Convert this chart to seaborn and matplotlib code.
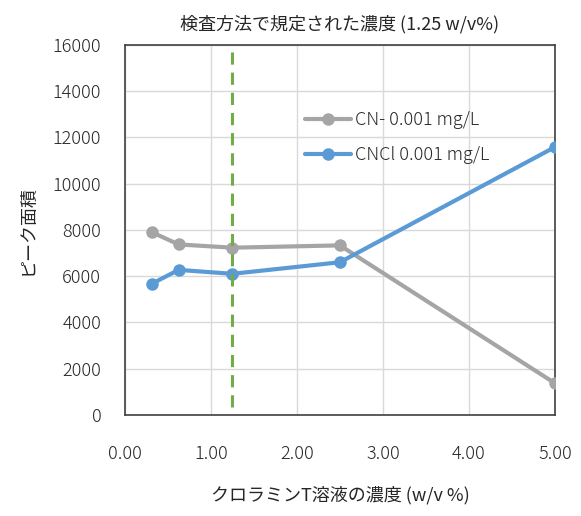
import matplotlib
matplotlib.use("Agg")
import matplotlib.pyplot as plt
import seaborn as sns
import pandas as pd

conc = [0.3125, 0.625, 1.25, 2.5, 5.0]
cn_values = [7900, 7370, 7230, 7330, 1370]
cncl_values = [5670, 6270, 6100, 6600, 11580]
series_names = ["CN- 0.001 mg/L", "CNCl 0.001 mg/L"]
x_ticks = [0, 1, 2, 3, 4, 5]
y_ticks = list(range(0, 16001, 2000))
ref_conc = 1.25

sns.set_style("white")
plt.rcParams['font.family'] = ['Noto Sans CJK JP', 'DejaVu Sans']
plt.rcParams['font.weight'] = 'light'

df = pd.DataFrame({
    "conc": conc * 2,
    "area": cn_values + cncl_values,
    "series": [series_names[0]] * len(conc) + [series_names[1]] * len(conc),
})

fig = plt.figure(figsize=(5.81, 5.16), dpi=100)
ax = fig.add_axes([0.215, 0.196, 0.74, 0.717])

palette = {series_names[0]: "#A5A5A5", series_names[1]: "#5B9BD5"}
sns.lineplot(data=df, x="conc", y="area", hue="series", palette=palette,
             marker="o", markersize=9, markeredgewidth=0, linewidth=3,
             ax=ax, zorder=3)

ax.axvline(ref_conc, ymin=0.02, ymax=1.0, color="#70AD47", linestyle=(0, (4, 2.6)),
           linewidth=2.2, zorder=4)

ax.set_xlim(0, 5)
ax.set_ylim(0, 16000)
ax.set_xticks(x_ticks)
ax.set_xticklabels([f"{v:.2f}" for v in x_ticks])
ax.set_yticks(y_ticks)
ax.set_yticklabels([str(v) for v in y_ticks])
ax.grid(True, color="#D9D9D9", linewidth=1)
ax.set_axisbelow(True)
ax.tick_params(axis="x", length=0, pad=22, labelsize=13)
ax.tick_params(axis="y", length=0, pad=17, labelsize=13)
for t in ax.get_xticklabels() + ax.get_yticklabels():
    t.set_color("#262626")
for s in ax.spines.values():
    s.set_color("#404040")
    s.set_linewidth(1.2)

ax.set_xlabel("クロラミンT溶液の濃度 (w/v %)", fontsize=13, labelpad=16, color="#262626")
ax.set_ylabel("ピーク面積", fontsize=13, labelpad=12, color="#262626")
ax.set_title("検査方法で規定された濃度 (1.25 w/v%)", fontsize=13, pad=11, color="#262626")

leg = ax.legend(loc="upper left", bbox_to_anchor=(0.38, 0.865), frameon=False,
                fontsize=13, handlelength=2.6, handletextpad=0.2, labelspacing=0.95)
for t in leg.get_texts():
    t.set_color("#262626")

fig.savefig("out.png", dpi=100)
